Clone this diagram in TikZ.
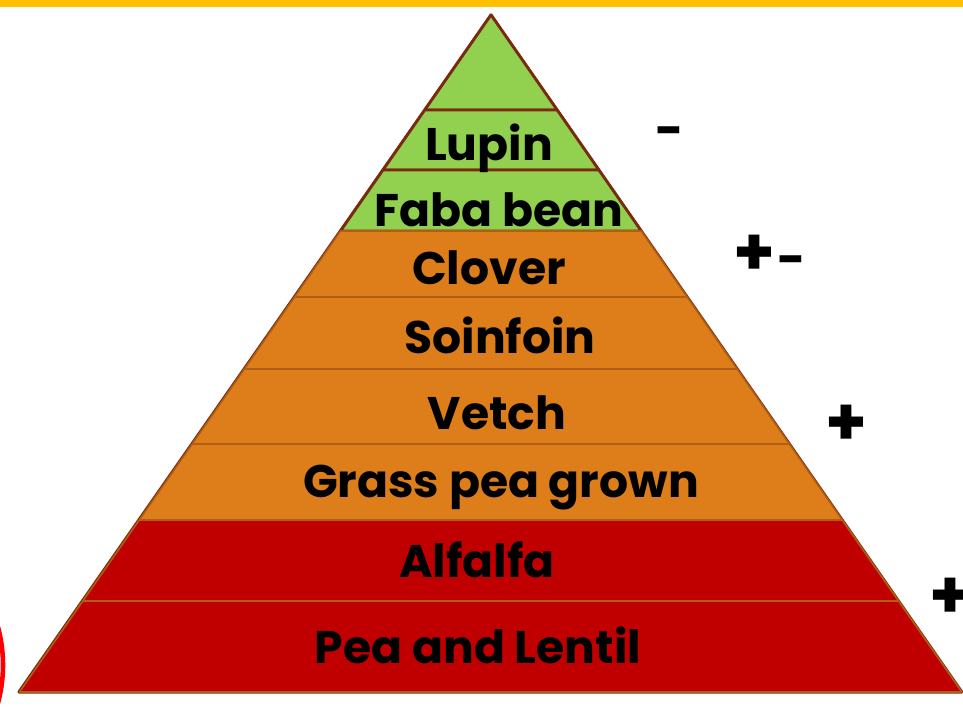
\documentclass[tikz,border=0pt]{standalone}
\usepackage{fontspec}
\setmainfont{Poppins}
\definecolor{sunyellow}{HTML}{FFC000}
\definecolor{leafgreen}{HTML}{92D050}
\definecolor{clayorange}{HTML}{DE7E1B}
\definecolor{brickred}{HTML}{C00000}
\definecolor{barkbrown}{HTML}{7A2A0E}
\definecolor{rimorange}{HTML}{AF5E12}

\begin{document}
\begin{tikzpicture}[
    x=0.02cm, y=-0.02cm,
    greenband/.style={fill=leafgreen, draw=barkbrown, line width=1.5pt, line join=round},
    orangeband/.style={fill=clayorange, draw=rimorange, line width=0.9pt, line join=round},
    redband/.style={fill=brickred, draw=rimorange, line width=0.9pt, line join=round},
    bandlabel/.style={anchor=base, font=\fontsize{26}{30}\selectfont\bfseries},
    signlabel/.style={inner sep=0pt, font=\fontsize{38}{40}\selectfont\bfseries},
    minuslabel/.style={inner sep=0pt, font=\fontsize{28}{30}\selectfont\bfseries}
]
\useasboundingbox (0,0) rectangle (963,718);

% top bar
\fill[sunyellow] (0,0) rectangle (963,6.5);

% outer outline of the pyramid
\draw[barkbrown, line width=1.8pt, line join=round] (491,15) -- (961.7,692) -- (19,692) -- cycle;

% bands, top to bottom
\foreach \ya/\yb/\sty in {15/110/greenband, 110/170/greenband, 170/231/greenband,
    231/297/orangeband, 297/369/orangeband, 369/444/orangeband, 444/520/orangeband,
    520/601/redband, 601/692/redband} {
  \pgfmathsetmacro{\xal}{491-0.6965*(\ya-15)}
  \pgfmathsetmacro{\xar}{491+0.6955*(\ya-15)}
  \pgfmathsetmacro{\xbl}{491-0.6965*(\yb-15)}
  \pgfmathsetmacro{\xbr}{491+0.6955*(\yb-15)}
  \draw[\sty] (\xal,\ya) -- (\xar,\ya) -- (\xbr,\yb) -- (\xbl,\yb) -- cycle;
}

% band labels
\node[bandlabel] (lupin) at (489,160) {Lupin};
\node[bandlabel] (faba) at (499,226) {Faba bean};
\node[bandlabel] (clover) at (489,284) {Clover};
\node[bandlabel] (soinfoin) at (500,353) {Soinfoin};
\node[bandlabel] (vetch) at (497,429) {Vetch};
\node[bandlabel] (grasspea) at (501,497) {Grass pea grown};
\node[bandlabel] (alfalfa) at (477,577) {Alfalfa};
\node[bandlabel] (pealentil) at (478,663) {Pea and Lentil};

% signs on the right
\node[minuslabel] (signa) at (670,137) {-};
\node[signlabel] (signb) at (754,255) {+};
\node[minuslabel] (signbm) at (792,266) {-};
\node[signlabel] (signc) at (846,425) {+};
\node[signlabel] (signd) at (950,598) {+};

% red ring cut by the left edge
\draw[red, line width=2.6pt] (-142,665) circle (145);
\end{tikzpicture}
\end{document}
